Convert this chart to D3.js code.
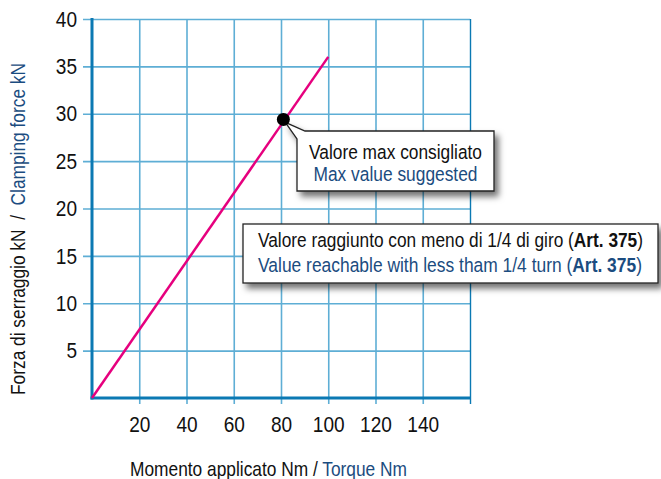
<!DOCTYPE html>
<html>
<head>
<meta charset="utf-8">
<script src="https://cdn.jsdelivr.net/npm/d3@7"></script>
<style>
  body { margin: 0; background: #fff; }
  svg text { font-family: "Liberation Sans Narrow", "Arial Narrow", "Liberation Sans", Arial, sans-serif; }
</style>
</head>
<body>
<div id="graph"></div>
<script>
// torque (Nm) -> clamping force (kN)
var torque = [0, 100]
var force = [0, 36]
var maxTorque = 81, maxForce = 29.4

var xTicks = [20, 40, 60, 80, 100, 120, 140, 160]
var yTicks = [5, 10, 15, 20, 25, 30, 35, 40]
var xTickLabels = ['20', '40', '60', '80', '100', '120', '140', '']

var data = torque.map(function(t, i){ return {t: t, f: force[i]} })

var gridColor = '#5eaed5', axisColor = '#0b79b3', pink = '#e6007e', navy = '#1b4c80'

var svg = d3.select('#graph').append('svg').attr('width', 661).attr('height', 479)

var defs = svg.append('defs')
var flt = defs.append('filter').attr('id', 'shadow')
  .attr('x', '-10%').attr('y', '-20%').attr('width', '130%').attr('height', '160%')
flt.append('feDropShadow').attr('dx', 4).attr('dy', 5).attr('stdDeviation', 3)
  .attr('flood-color', '#000').attr('flood-opacity', 0.55)

var x = d3.scaleLinear().domain([0, 160]).range([92, 470])
var y = d3.scaleLinear().domain([0, 40]).range([398, 19])

// narrow look: squeeze text to the width it has in the picture
function squeeze(sel, w){
  sel.attr('textLength', w).attr('lengthAdjust', 'spacingAndGlyphs')
}

// grid via axes
var yAxis = d3.axisLeft(y).tickValues(yTicks).tickSize(-(x(160) - x(0))).tickPadding(15)
var xAxis = d3.axisBottom(x).tickValues(xTicks)
  .tickFormat(function(d, i){ return xTickLabels[i] })
  .tickSize(-(y(0) - y(40))).tickPadding(18)

var gy = svg.append('g').attr('transform', 'translate(' + x(0) + ',0)').call(yAxis)
gy.select('.domain').remove()
gy.selectAll('.tick line').attr('x1', -9).attr('stroke', gridColor).attr('stroke-width', 1.6)
gy.selectAll('.tick text').attr('font-size', 22.5).attr('fill', '#111')
  .style('font-family', null)
  .each(function(){ var s = d3.select(this); squeeze(s, s.text().length * 10.6) })

var gx = svg.append('g').attr('transform', 'translate(0,' + y(0) + ')').call(xAxis)
gx.select('.domain').remove()
gx.selectAll('.tick line').attr('y1', 6).attr('stroke', gridColor).attr('stroke-width', 1.6)
gx.selectAll('.tick').filter(function(d){ return d == 160 }).select('line')
  .attr('stroke', axisColor).attr('stroke-width', 1.4)
gx.selectAll('.tick text').attr('font-size', 22.5).attr('fill', '#111')
  .style('font-family', null)
  .each(function(){
    var s = d3.select(this), n = s.text().length
    if (n) squeeze(s, n * 10.6)
  })

// main axes
svg.append('line')
  .attr('x1', x(0)).attr('x2', x(0)).attr('y1', y(40) - 1).attr('y2', y(0) + 1.5)
  .attr('stroke', axisColor).attr('stroke-width', 3)
svg.append('line')
  .attr('x1', x(0) - 1.5).attr('x2', x(160) + 1).attr('y1', y(0)).attr('y2', y(0))
  .attr('stroke', axisColor).attr('stroke-width', 3)

// curve
var line = d3.line().x(function(d){ return x(d.t) }).y(function(d){ return y(d.f) })
svg.append('path').attr('d', line(data))
  .attr('fill', 'none').attr('stroke', pink).attr('stroke-width', 2.5)

// callout 1
var px = x(maxTorque), py = y(maxForce)
var b1 = {x0: 297, y0: 131, x1: 494, y1: 191}
svg.append('path')
  .attr('d', 'M' + (px + 2) + ',' + (py + 3) + 'L' + (b1.x0 + 8) + ',' + b1.y0 + 'H' + b1.x1 +
    'V' + b1.y1 + 'H' + b1.x0 + 'V' + (b1.y0 + 8) + 'Z')
  .attr('fill', '#fff').attr('stroke', '#222').attr('stroke-width', 1.3)
  .attr('filter', 'url(#shadow)')
svg.append('circle').attr('cx', px).attr('cy', py).attr('r', 6.5).attr('fill', '#000')

var cx1 = (b1.x0 + b1.x1) / 2
svg.append('text').attr('text-anchor', 'middle').attr('font-size', 20.5)
  .attr('x', cx1).attr('y', 159).attr('fill', '#111')
  .text('Valore max consigliato').call(squeeze, 173)
svg.append('text').attr('text-anchor', 'middle').attr('font-size', 20.5)
  .attr('x', cx1).attr('y', 181).attr('fill', navy)
  .text('Max value suggested').call(squeeze, 164)

// callout 2
var b2 = {x0: 243, y0: 224, x1: 658, y1: 283}
svg.append('rect').attr('x', b2.x0).attr('y', b2.y0)
  .attr('width', b2.x1 - b2.x0).attr('height', b2.y1 - b2.y0)
  .attr('fill', '#fff').attr('stroke', '#222').attr('stroke-width', 1.3)
  .attr('filter', 'url(#shadow)')

var t2 = svg.append('text').attr('font-size', 20.5).attr('x', 258).attr('y', 247).attr('fill', '#111')
t2.append('tspan').text('Valore raggiunto con meno di 1/4 di giro (')
t2.append('tspan').attr('font-weight', 'bold').text('Art. 375')
t2.append('tspan').text(')')
t2.call(squeeze, 385)
var t3 = svg.append('text').attr('font-size', 20.5).attr('x', 258).attr('y', 272).attr('fill', navy)
t3.append('tspan').text('Value reachable with less tham 1/4 turn (')
t3.append('tspan').attr('font-weight', 'bold').text('Art. 375')
t3.append('tspan').text(')')
t3.call(squeeze, 384)

// axis titles
var xt = svg.append('text').attr('x', 130).attr('y', 476).attr('font-size', 21)
xt.append('tspan').attr('fill', '#111').text('Momento applicato Nm / ')
xt.append('tspan').attr('fill', navy).text('Torque Nm')
xt.call(squeeze, 277)

var yt = svg.append('text').attr('transform', 'translate(25,395) rotate(-90)').attr('font-size', 21)
  .attr('xml:space', 'preserve')
yt.append('tspan').attr('fill', '#111').text('Forza di serraggio kN  /  ')
yt.append('tspan').attr('fill', navy).text('Clamping force kN')
yt.call(squeeze, 332)
</script>
</body>
</html>
